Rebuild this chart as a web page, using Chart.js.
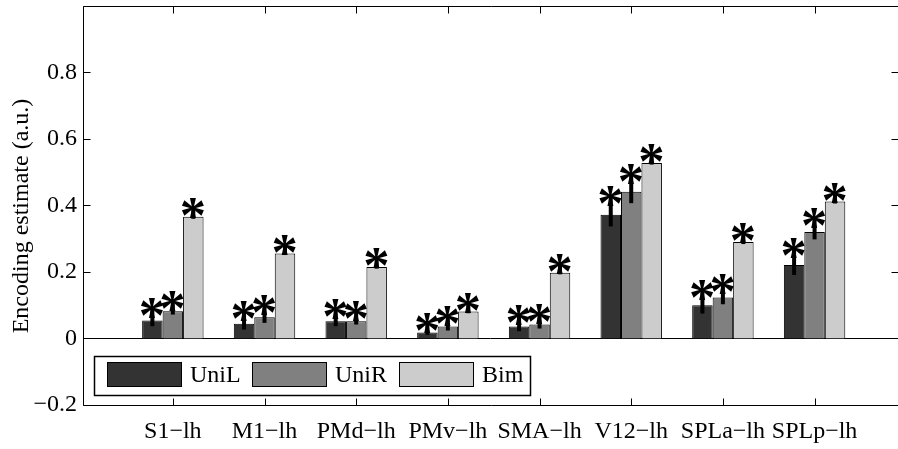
<!DOCTYPE html>
<html>
<head>
<meta charset="utf-8">
<script src="https://cdn.jsdelivr.net/npm/chart.js@4/dist/chart.umd.min.js"></script>
<style>
  body { margin: 0; background: #fff; }
  #wrap { width: 898px; height: 449px; }
</style>
</head>
<body>
<div id="wrap"><canvas id="encoding-chart" width="898" height="449"></canvas></div>
<script>
// categories (regions of interest)
const regions = ['S1\u2212lh', 'M1\u2212lh', 'PMd\u2212lh', 'PMv\u2212lh', 'SMA\u2212lh', 'V12\u2212lh', 'SPLa\u2212lh', 'SPLp\u2212lh']

// bar heights
const uniL = [0.054, 0.044, 0.052, 0.018, 0.036, 0.372, 0.100, 0.221]
const uniR = [0.082, 0.064, 0.052, 0.036, 0.042, 0.441, 0.123, 0.320]
const bim = [0.366, 0.256, 0.215, 0.081, 0.198, 0.528, 0.290, 0.412]

// error bar half lengths
const errL = [0.017, 0.017, 0.015, 0.007, 0.014, 0.035, 0.025, 0.030]
const errR = [0.010, 0.017, 0.010, 0.012, 0.012, 0.034, 0.020, 0.022]
const errB = [0.006, 0.005, 0.005, 0.005, 0.005, 0.005, 0.006, 0.006]

// y axis tick values
const yTicks = [-0.2, 0, 0.2, 0.4, 0.6, 0.8, 1.0]
const yLabel = 'Encoding estimate (a.u.)'

const FONT = "'Liberation Serif', 'Times New Roman', serif"
Chart.defaults.font.family = FONT
Chart.defaults.color = '#000'

function fmtTick(v) {
    if (Math.abs(v) < 1e-9) return '0'
    if (Math.abs(v - 1) < 1e-9) return ''
    const s = Math.abs(v).toFixed(1)
    return v < 0 ? '\u2212' + s : s
}

function toPoints(values) {
    return values.map((v, i) => ({ x: i + 1, y: v }))
}

// frame, inward ticks, zero line, y title, legend
const framePlugin = {
    id: 'frame',
    beforeDatasetsDraw(chart) {
        const { ctx, chartArea } = chart
        const y = chart.scales.y
        ctx.save()
        ctx.strokeStyle = '#000'
        ctx.lineWidth = 1
        const y0 = Math.round(y.getPixelForValue(0)) + 0.5
        ctx.beginPath()
        ctx.moveTo(chartArea.left, y0)
        ctx.lineTo(chartArea.right, y0)
        ctx.stroke()
        ctx.restore()
    },
    afterDraw(chart) {
        const { ctx, chartArea } = chart
        const x = chart.scales.x
        const y = chart.scales.y
        const L = Math.round(chartArea.left) + 0.5
        const R = Math.round(chartArea.right) - 0.5
        const T = Math.round(chartArea.top) + 0.5
        const B = Math.round(chartArea.bottom) + 0.5
        ctx.save()
        ctx.strokeStyle = '#000'
        ctx.lineWidth = 1
        ctx.beginPath()
        ctx.moveTo(R + 2, T); ctx.lineTo(L, T); ctx.lineTo(L, B); ctx.lineTo(R + 2, B)
        const tl = 7
        regions.forEach((r, i) => {
            const px = Math.round(x.getPixelForValue(i + 1)) + 0.5
            ctx.moveTo(px, T); ctx.lineTo(px, T + tl)
            ctx.moveTo(px, B); ctx.lineTo(px, B - tl)
        })
        yTicks.forEach(v => {
            const py = Math.round(y.getPixelForValue(v)) + 0.5
            ctx.moveTo(L, py); ctx.lineTo(L + tl, py)
            ctx.moveTo(R + 1, py); ctx.lineTo(R + 1 - tl, py)
        })
        ctx.stroke()

        // y axis title
        ctx.fillStyle = '#000'
        ctx.font = '24px ' + FONT
        ctx.textAlign = 'center'
        ctx.textBaseline = 'middle'
        ctx.translate(22, 216)
        ctx.rotate(-Math.PI / 2)
        ctx.fillText(yLabel, 0, 0)
        ctx.restore()

        // legend box
        ctx.save()
        const lx = 94, ly = 356, lw = 436, lh = 39
        ctx.fillStyle = '#fff'
        ctx.fillRect(lx, ly, lw, lh)
        ctx.lineWidth = 1.5
        ctx.strokeStyle = '#000'
        ctx.strokeRect(lx + 0.5, ly + 0.5, lw, lh)
        const swX = [107, 252, 399]
        ctx.font = '24px ' + FONT
        ctx.textAlign = 'left'
        ctx.textBaseline = 'middle'
        chart.data.datasets.forEach((ds, i) => {
            ctx.fillStyle = ds.backgroundColor
            ctx.fillRect(swX[i], 362, 74, 24)
            ctx.lineWidth = 1
            ctx.strokeRect(swX[i] + 0.5, 362.5, 74, 24)
            ctx.fillStyle = '#000'
            ctx.fillText(ds.label, swX[i] + 83, 376)
        })
        ctx.restore()
    }
}

// error bars and significance stars on top of each bar
const starPlugin = {
    id: 'stars',
    afterDatasetsDraw(chart) {
        const { ctx } = chart
        const y = chart.scales.y
        const errs = [errL, errR, errB]
        ctx.save()
        ctx.font = 'bold 100px ' + FONT
        let m = ctx.measureText('*')
        const size = 100 * 20 / (m.actualBoundingBoxAscent + m.actualBoundingBoxDescent)
        ctx.font = 'bold ' + size.toFixed(1) + 'px ' + FONT
        ctx.textAlign = 'center'
        ctx.textBaseline = 'alphabetic'
        m = ctx.measureText('*')
        const midOff = (m.actualBoundingBoxAscent - m.actualBoundingBoxDescent) / 2
        const xOff = (m.actualBoundingBoxLeft - m.actualBoundingBoxRight) / 2
        chart.data.datasets.forEach((ds, di) => {
            const meta = chart.getDatasetMeta(di)
            meta.data.forEach((bar, i) => {
                const v = ds.data[i].y
                const e = errs[di][i]
                const top = y.getPixelForValue(v + e)
                const bot = y.getPixelForValue(v - e)
                const sy = top - 7
                ctx.strokeStyle = '#000'
                ctx.lineWidth = 4
                ctx.beginPath()
                ctx.moveTo(bar.x, bot)
                ctx.lineTo(bar.x, sy)
                ctx.stroke()
                ctx.fillStyle = '#000'
                ctx.fillText('*', bar.x + xOff, sy + midOff)
            })
        })
        ctx.restore()
    }
}

new Chart(document.querySelector('#encoding-chart').getContext('2d'), {
    type: 'bar',
    data: {
        datasets: [
            { label: 'UniL', data: toPoints(uniL), backgroundColor: '#333333' },
            { label: 'UniR', data: toPoints(uniR), backgroundColor: '#808080' },
            { label: 'Bim', data: toPoints(bim), backgroundColor: '#cccccc' }
        ]
    },
    options: {
        responsive: false,
        animation: false,
        layout: { padding: { top: 6, right: 0, bottom: 0, left: 0 } },
        datasets: {
            bar: {
                categoryPercentage: 0.67,
                barPercentage: 1.0,
                borderColor: '#000',
                borderWidth: 1,
                borderSkipped: 'start'
            }
        },
        plugins: {
            legend: { display: false },
            tooltip: { enabled: false }
        },
        scales: {
            x: {
                type: 'linear',
                offset: false,
                min: 0.02,
                max: 8.91,
                grid: { display: false, drawTicks: false },
                border: { display: false },
                afterBuildTicks: scale => {
                    scale.ticks = regions.map((r, i) => ({ value: i + 1 }))
                },
                afterFit: scale => {
                    scale.height = 44
                    scale.paddingLeft = 0
                    scale.paddingRight = 0
                },
                ticks: {
                    autoSkip: false,
                    maxRotation: 0,
                    padding: 12,
                    font: { size: 24 },
                    callback: v => regions[v - 1] || ''
                }
            },
            y: {
                min: -0.2,
                max: 1.0,
                grid: { display: false, drawTicks: false },
                border: { display: false },
                afterBuildTicks: scale => {
                    scale.ticks = yTicks.map(v => ({ value: v }))
                },
                afterFit: scale => {
                    scale.width = 83
                    scale.paddingTop = 0
                    scale.paddingBottom = 0
                },
                ticks: {
                    padding: 6,
                    font: { size: 24 },
                    callback: v => fmtTick(v)
                }
            }
        }
    },
    plugins: [framePlugin, starPlugin]
})
</script>
</body>
</html>
